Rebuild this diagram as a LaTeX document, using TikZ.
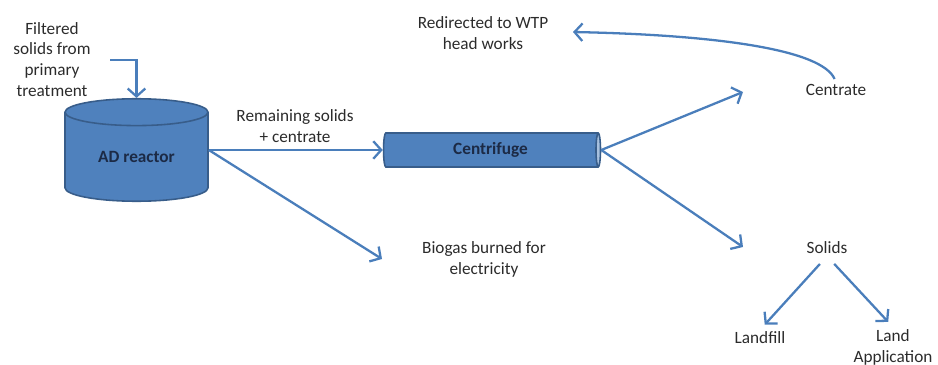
\documentclass[tikz,border=0pt]{standalone}
\usepackage{fontspec}
\setmainfont{Carlito}
\usetikzlibrary{shapes.geometric,arrows.meta}
\definecolor{flowblue}{HTML}{4A7EBB}
\definecolor{tankfill}{HTML}{4F81BD}
\definecolor{tankline}{HTML}{385D8A}
\definecolor{tankend}{HTML}{A7C0DE}
\definecolor{labeltext}{HTML}{2B2B2B}
\definecolor{tanktext}{HTML}{1C2A45}
\begin{document}
\begin{tikzpicture}[x=0.02cm, y=-0.02cm,
    every node/.style={font=\fontsize{9.8}{11.9}\selectfont, text=labeltext, align=center, inner sep=1pt},
    flow/.style={draw=flowblue, line width=1.3pt, -{Straight Barb[length=4.5pt,width=10pt]}},
    tank/.style={cylinder, draw=tankline, line width=0.9pt, cylinder uses custom fill,
      cylinder body fill=tankfill, cylinder end fill=tankfill, inner sep=0pt,
      font=\fontsize{9.8}{11.9}\selectfont\bfseries, text=tanktext}]
  \useasboundingbox (0,0) rectangle (938,365);

  % vessels
  \node[tank, shape border rotate=90, minimum width=2.86cm, minimum height=2.05cm, aspect=0.35, anchor=shape center] (ad) at (136.5,150) {AD reactor};
  \node[tank, minimum height=4.34cm, minimum width=0.68cm, aspect=0.3, cylinder end fill=tankend] (cf) at (490.5,150) {Centrifuge};

  % labels
  \node (feed) at (52,59.5) {Filtered\\solids from\\primary\\treatment};
  \node (remain) at (295,126) {Remaining solids\\+ centrate};
  \node (biogas) at (484,259) {Biogas burned for\\electricity};
  \node (wtp) at (483,33) {Redirected to WTP\\head works};
  \node (centrate) at (836,90) {Centrate};
  \node (solids) at (827,248) {Solids};
  \node (landfill) at (760,338) {Landfill};
  \node (landapp) at (893,347) {Land\\Application};

  \coordinate (feedin) at (110,60);
  \coordinate (gasend) at (382,259);
  \coordinate (centend) at (743,92);
  \coordinate (solend) at (743,247);
  \coordinate (wtpend) at (573,32);

  % flows
  \draw[flow] (feedin) -| (ad.north);
  \draw[flow] (ad.shape center -| ad.east) -- (cf.west);
  \draw[flow] (ad.shape center -| ad.east) -- (gasend);
  \draw[flow] (cf.east) -- (centend);
  \draw[flow] (cf.east) -- (solend);
  \draw[flow, shorten <=2pt] (centrate.north) .. controls (822,50) and (720,35) .. (wtpend);
  \draw[flow, shorten <=6pt, shorten >=4pt] (solids.south) -- (landfill.north);
  \draw[flow, shorten <=6pt, shorten >=4pt] (solids.south) -- (landapp.north);
\end{tikzpicture}
\end{document}
